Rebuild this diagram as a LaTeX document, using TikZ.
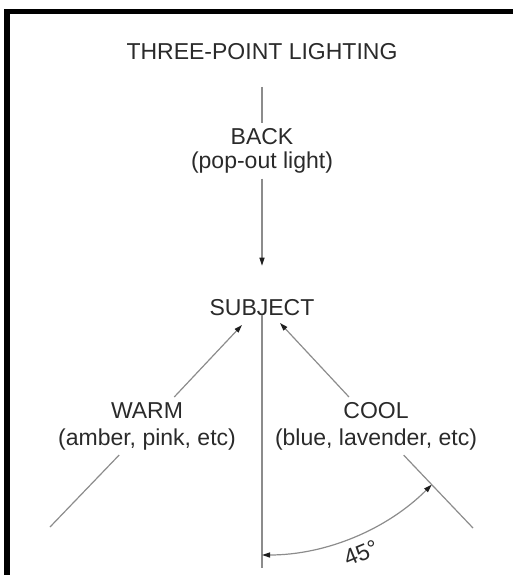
\documentclass[tikz,border=0pt]{standalone}
\usepackage{fontspec}
\setmainfont{Liberation Sans}
\usetikzlibrary{arrows.meta}
\definecolor{txt}{HTML}{2A2A2A}
\definecolor{ln}{HTML}{8C8C8C}
\definecolor{tipc}{HTML}{1E1E1E}
\begin{document}
\begin{tikzpicture}[x=1pt,y=-1pt,
  lbl/.style={font=\fontsize{23}{27}\selectfont, text=txt, align=center, inner sep=5pt},
  conn/.style={draw=ln, line width=1.2pt},
  tiphead/.style={-{Triangle[length=8pt,width=5pt,color=tipc]}},
  bothheads/.style={{Triangle[length=8pt,width=5pt,color=tipc]}-{Triangle[length=8pt,width=5pt,color=tipc]}}
]
\useasboundingbox (0,0) rectangle (513,575);
% frame
\fill[black] (4,9) rectangle (513,14.5);
\fill[black] (4,9) rectangle (10,575);

% nodes
\node[lbl, anchor=base] (title) at (262,60) {THREE-POINT LIGHTING};
\node[lbl, font=\fontsize{23}{24}\selectfont] (back) at (262,151) {BACK\\(pop-out light)};
\node[lbl, anchor=base] (subject) at (262,315) {SUBJECT};
\node[lbl] (warm) at (147,426) {WARM\\(amber, pink, etc)};
\node[lbl] (cool) at (376,426) {COOL\\(blue, lavender, etc)};
\node[lbl, rotate=22.5] (deg) at (361,553) {45°};

% coordinates
\coordinate (btop) at (262,87);
\coordinate (vbot) at (262,568);
\coordinate (wl) at (50,527);
\coordinate (tipL) at (242,325);
\coordinate (cr) at (473,528);
\coordinate (tipR) at (280,323);
\coordinate (a0) at (262,555);

% connectors
\draw[conn] (btop) -- (back);
\draw[conn, tiphead, shorten >=28pt] (back) -- (subject);
\draw[conn] (subject.base) -- (vbot);
\draw[conn] (wl) -- (warm);
\draw[conn, tiphead] (warm) -- (tipL);
\draw[conn] (cr) -- (cool);
\draw[conn, tiphead] (cool) -- (tipR);
\draw[conn, bothheads] (a0) arc[start angle=90, end angle=45, radius=240];
\end{tikzpicture}
\end{document}
